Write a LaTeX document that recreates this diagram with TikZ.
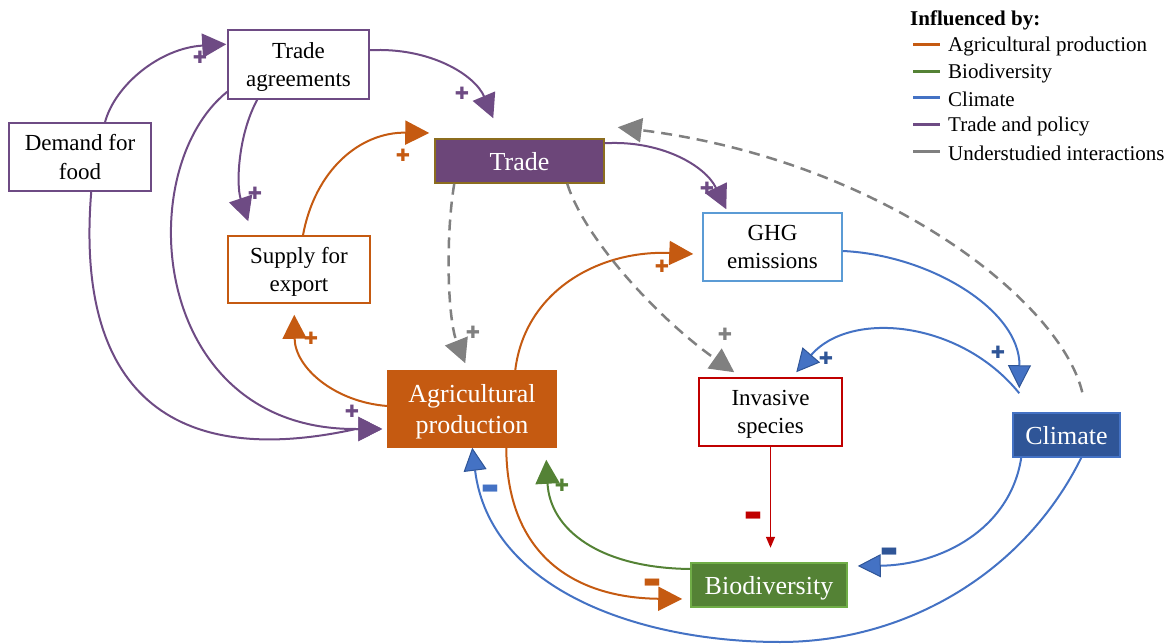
\documentclass[tikz,border=0pt]{standalone}
\usepackage{fontspec}
\setmainfont{Liberation Serif}
\newfontfamily\symfont{DejaVu Sans}
\usetikzlibrary{arrows.meta,calc}
\definecolor{pur}{HTML}{6E4B84}
\definecolor{purF}{HTML}{6C4679}
\definecolor{goldB}{HTML}{8C6D1F}
\definecolor{ora}{HTML}{C55A11}
\definecolor{grn}{HTML}{548235}
\definecolor{grnB}{HTML}{70AD47}
\definecolor{blu}{HTML}{4472C4}
\definecolor{bluD}{HTML}{2F5597}
\definecolor{bluL}{HTML}{5B9BD5}
\definecolor{redc}{HTML}{C00000}
\definecolor{gry}{HTML}{808080}
\begin{document}
\begin{tikzpicture}[x=1pt,y=-1pt,
  wbox/.style={draw, fill=white, line width=1.5pt, inner sep=0pt, align=center, text depth=0pt, font=\fontsize{23}{28.5}\selectfont},
  fbox/.style={draw, line width=1.5pt, inner sep=0pt, align=center, text=white, text depth=0pt, font=\fontsize{26}{30.5}\selectfont},
  conn/.style={line width=2pt},
  big/.style={-{Triangle[length=24pt,width=24pt]}},
  bigblue/.style={-{Triangle[length=23pt,width=23pt,fill=blu,color=bluD,line width=1pt]}},
  dsh/.style={line width=2.5pt, dash pattern=on 11pt off 7pt, color=gry},
  sgn/.style={inner sep=0pt, font=\symfont\fontsize{17}{17}\selectfont},
  msgn/.style={inner sep=0pt, font=\symfont\fontsize{19}{19}\selectfont},
  legtext/.style={anchor=west, inner sep=0pt, font=\fontsize{21}{21}\selectfont},
  legline/.style={line width=3pt},
]
\useasboundingbox (0,0) rectangle (1168,644);

% nodes
\node[wbox, draw=pur, minimum width=141pt, minimum height=69pt] (ta) at (298.5,64.5) {Trade\\agreements};
\node[wbox, draw=pur, minimum width=142pt, minimum height=68pt] (dem) at (80,157) {Demand for\\food};
\node[fbox, fill=purF, draw=goldB, minimum width=169pt, minimum height=44pt] (trade) at (519.5,161) {Trade};
\node[wbox, draw=ora, minimum width=142pt, minimum height=67pt] (sup) at (299,269.5) {Supply for\\export};
\node[wbox, draw=bluL, minimum width=139pt, minimum height=68pt] (ghg) at (772.5,247) {GHG\\emissions};
\node[fbox, fill=ora, draw=ora, minimum width=168pt, minimum height=76pt] (agri) at (472,409) {Agricultural\\production};
\node[wbox, draw=redc, minimum width=143pt, minimum height=68pt] (inv) at (770.5,412) {Invasive\\species};
\node[fbox, fill=bluD, draw=blu, minimum width=107pt, minimum height=44pt] (clim) at (1066.5,435) {Climate};
\node[fbox, fill=grn, draw=grnB, minimum width=156pt, minimum height=44pt] (bio) at (769,585) {Biodiversity};

% legend
\node[anchor=west, inner sep=0pt, font=\bfseries\fontsize{21}{21}\selectfont] (lt) at (910,20) {Influenced by:};
\node[legtext] (l1) at (948,46) {Agricultural production};
\node[legtext] (l2) at (948,73) {Biodiversity};
\node[legtext] (l3) at (948,99) {Climate};
\node[legtext] (l4) at (948,126) {Trade and policy};
\node[legtext] (l5) at (948,153) {Understudied interactions};
\draw[legline, ora] ($(l1.west)+(-35,-1)$) -- ++(27,0);
\draw[legline, grn] ($(l2.west)+(-35,-1)$) -- ++(27,0);
\draw[legline, blu] ($(l3.west)+(-35,-1)$) -- ++(27,0);
\draw[legline, pur] ($(l4.west)+(-35,-1)$) -- ++(27,0);
\draw[legline, gry] ($(l5.west)+(-35,-1)$) -- ++(27,0);

% purple connectors
\draw[conn, pur, big] ($(dem.north)+(25,0)$) .. controls (115,85) and (160,48) .. ($(ta.north west)+(-1,15)$);
\draw[conn, pur, big] ($(ta.north east)+(0,21)$) .. controls (430,47) and (475,75) .. ($(trade.north west)+(59,-20)$);
\draw[conn, pur, big] ($(ta.south west)+(30,0)$) .. controls (238,135) and (236,185) .. ($(sup.north west)+(21,-14)$);
\draw[conn, pur, big] ($(ta.south west)+(0,-8)$) .. controls (130,170) and (150,430) .. (356,429) -- ($(agri.west)+(-5,20)$);
\draw[conn, pur, big] ($(dem.south west)+(83,0)$) .. controls (75,390) and (170,470) .. (356,429) -- ($(agri.west)+(-5,20)$);
\draw[conn, pur, big] ($(trade.north east)+(0,5)$) .. controls (660,140) and (705,165) .. ($(ghg.north west)+(24,-3)$);

% orange connectors
\draw[conn, ora, big] ($(sup.north)+(4,0)$) .. controls (315,170) and (360,132) .. ($(trade.west)+(-5,-28)$);
\draw[conn, ora, big] ($(agri.west)+(0,-3)$) .. controls (335,402) and (295,368) .. ($(sup.south west)+(67,11)$);
\draw[conn, ora, big] ($(agri.north west)+(128,0)$) .. controls (525,290) and (600,250) .. ($(ghg.west)+(-9,7)$);
\draw[conn, ora, big] ($(agri.south west)+(119,0)$) .. controls (507,560) and (580,598) .. ($(bio.west)+(-8,14)$);

% gray dashed connectors
\draw[dsh, big] ($(trade.south west)+(20,0)$) .. controls (445,240) and (448,320) .. ($(agri.north west)+(78,-7)$);
\draw[dsh, big] ($(trade.south west)+(133,0)$) .. controls (585,240) and (660,320) .. ($(inv.north west)+(36,-5)$);
\draw[dsh, big] ($(clim.north west)+(70,-20)$) .. controls (1060,300) and (880,160) .. ($(trade.north east)+(13,-11)$);

% blue connectors
\draw[conn, blu, bigblue] ($(ghg.east)+(0,4)$) .. controls (930,255) and (1020,310) .. ($(clim.north west)+(7,-24)$);
\draw[conn, blu, bigblue] ($(clim.north west)+(7,-19)$) .. controls (960,320) and (850,310) .. ($(inv.north west)+(98,-5)$);
\draw[conn, blu, bigblue] ($(clim.south west)+(9,0)$) .. controls (1010,530) and (940,565) .. ($(bio.east)+(10,-19)$);
\draw[conn, blu, bigblue] ($(clim.south west)+(69,0)$) .. controls (1026,570) and (909,642) .. (780,642) .. controls (640,642) and (490,590) .. ($(agri.south west)+(85,0)$);

% green connector
\draw[conn, grn, big] ($(bio.west)+(0,-16)$) .. controls (600,568) and (550,530) .. ($(agri.south west)+(159,12)$);

% red connector
\draw[line width=1.5pt, redc, -{Triangle[length=11pt,width=9pt]}] (inv.south) -- ($(inv.south)+(0,101)$);

% signs
\node[sgn, text=pur] (s1) at (200,57) {✚};
\node[sgn, text=pur] (s2) at (462,93) {✚};
\node[sgn, text=pur] (s3) at (255,193) {✚};
\node[sgn, text=pur] (s4) at (352,411) {✚};
\node[sgn, text=pur] (s5) at (707,188) {✚};
\node[sgn, text=ora] (s6) at (403,155) {✚};
\node[sgn, text=ora] (s7) at (311,338) {✚};
\node[sgn, text=ora] (s8) at (662,266) {✚};
\node[sgn, text=gry] (s9) at (473,332) {✚};
\node[sgn, text=gry] (s10) at (725,334) {✚};
\node[sgn, text=bluD] (s11) at (998,352) {✚};
\node[sgn, text=bluD] (s12) at (826,358) {✚};
\node[sgn, text=grn] (s13) at (562,485) {✚};
\node[msgn, text=blu] (m1) at (490,489) {▬};
\node[msgn, text=bluD] (m2) at (889,552) {▬};
\node[msgn, text=ora] (m3) at (652,583) {▬};
\node[msgn, text=redc] (m4) at (753,516) {▬};
\end{tikzpicture}
\end{document}
